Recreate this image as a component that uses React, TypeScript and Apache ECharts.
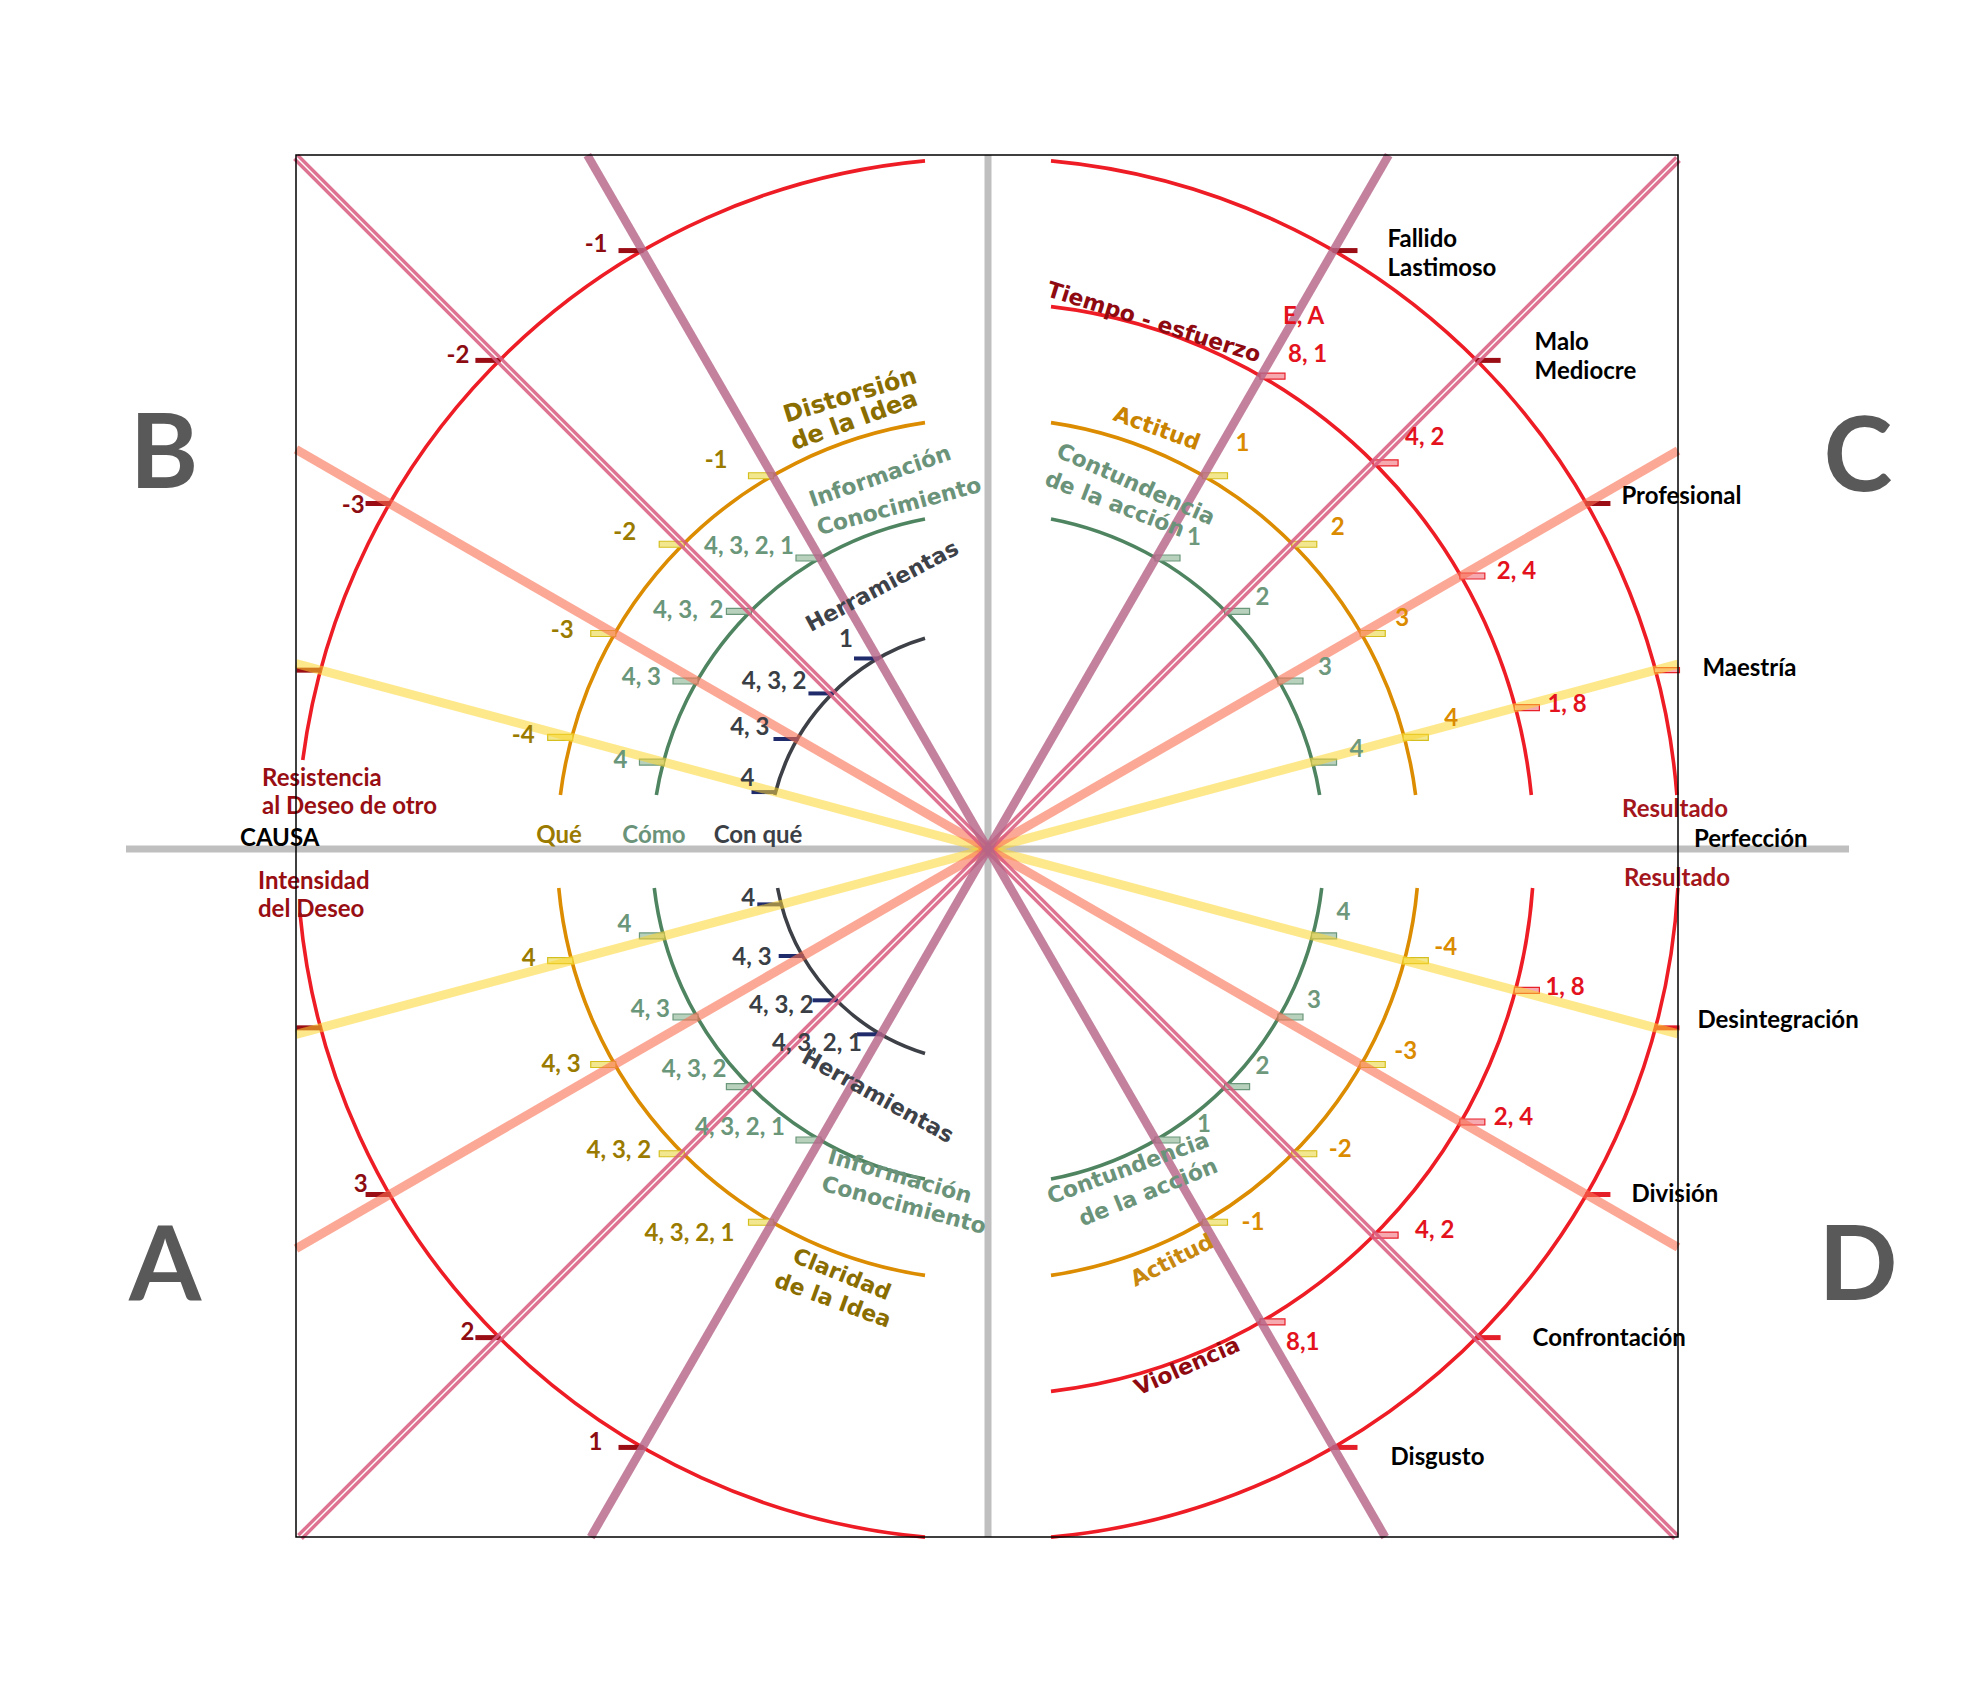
import React, { useEffect, useRef } from 'react';
import * as echarts from 'echarts';

// ---------------- data (values / texts) ----------------
const rayAngles = [15, 30, 45, 60]; // degrees of the four rays, mirrored in every quadrant
const quadrantLetters = ['A', 'B', 'C', 'D'];

// tick labels, ordered by ray angle 15°, 30°, 45°, 60°
const labelsA_outer = ['', '3', '2', '1'];
const labelsA_que = ['4', '4, 3', '4, 3, 2', '4, 3, 2, 1'];
const labelsA_como = ['4', '4, 3', '4, 3, 2', '4, 3, 2, 1'];
const labelsA_conque = ['4', '4, 3', '4, 3, 2', '4, 3, 2, 1'];
const labelsB_outer = ['', '-3', '-2', '-1'];
const labelsB_que = ['-4', '-3', '-2', '-1'];
const labelsB_como = ['4', '4, 3', '4, 3,  2', '4, 3, 2, 1'];
const labelsB_conque = ['4', '4, 3', '4, 3, 2', '1'];
const labelsC_outer = ['Maestría', 'Profesional', 'Malo\nMediocre', 'Fallido\nLastimoso'];
const labelsC_inner = ['1, 8', '2, 4', '4, 2', '8, 1'];
const labelsC_innerExtra = ['', '', '', 'E, A'];
const labelsC_que = ['4', '3', '2', '1'];
const labelsC_como = ['4', '3', '2', '1'];
const labelsD_outer = ['Desintegración', 'División', 'Confrontación', 'Disgusto'];
const labelsD_inner = ['1, 8', '2, 4', '4, 2', '8,1'];
const labelsD_que = ['-4', '-3', '-2', '-1'];
const labelsD_como = ['4', '3', '2', '1'];

const titlesA = ['Herramientas', 'Información', 'Conocimiento', 'Claridad', 'de la Idea'];
const titlesB = ['Distorsión', 'de la Idea', 'Información', 'Conocimiento', 'Herramientas'];
const titlesC = ['Tiempo - esfuerzo', 'Actitud', 'Contundencia', 'de la acción'];
const titlesD = ['Contundencia', 'de la acción', 'Actitud', 'Violencia'];

const causeLabels = ['Resistencia\nal Deseo de otro', 'CAUSA', 'Intensidad\ndel Deseo'];
const columnLabels = ['Qué', 'Cómo', 'Con qué'];
const resultLabels = ['Resultado', 'Perfección', 'Resultado'];

// ---------------- layout (positions, sizes, styles) ----------------
const W = 1983;
const H = 1700;
const CX = 988;
const CY = 849;
const FRAME = { left: 296, top: 155, right: 1678, bottom: 1537 };
const H_AXIS = { from: -862, to: 861 };
const RADIUS: Record<string, number> = { outer: 691, inner: 546, que: 431, como: 336, conqueA: 214, conqueB: 220 };
const GAP_X = 63;
const GAP_UP = 54;
const GAP_DOWN = 39;
const OUTER_LEFT_GAP_UP = 89;
const OUTER_LEFT_GAP_DOWN = 64;
const TICK_LEN = 24;

const QUAD_SIGN: Record<string, [number, number]> = { A: [-1, -1], B: [-1, 1], C: [1, 1], D: [1, -1] };
const QUAD_RINGS: Record<string, string[]> = {
  A: ['outer', 'que', 'como', 'conque'],
  B: ['outer', 'que', 'como', 'conque'],
  C: ['outer', 'inner', 'que', 'como'],
  D: ['outer', 'inner', 'que', 'como'],
};
const LABELS: Record<string, string[]> = {
  'A-outer': labelsA_outer, 'A-que': labelsA_que, 'A-como': labelsA_como, 'A-conque': labelsA_conque,
  'B-outer': labelsB_outer, 'B-que': labelsB_que, 'B-como': labelsB_como, 'B-conque': labelsB_conque,
  'C-outer': labelsC_outer, 'C-inner': labelsC_inner, 'C-que': labelsC_que, 'C-como': labelsC_como,
  'D-outer': labelsD_outer, 'D-inner': labelsD_inner, 'D-que': labelsD_que, 'D-como': labelsD_como,
};
// label edge offset from the arc/ray crossing [dx, dy] (screen px)
const LABEL_OFFSET: Record<string, number[][]> = {
  'B-outer': [[-30, -4], [-25, 0], [-30, -7], [-35, -8]],
  'B-que': [[-37, -4], [-41, -5], [-47, -14], [-45, -17]],
  'B-como': [[-36, -4], [-36, -6], [-27, -3], [-26, -14]],
  'B-conque': [[-21, -16], [-28, -14], [-26, -14], [-25, -21]],
  'A-outer': [[-30, -5], [-22, -12], [-25, -7], [-40, -7]],
  'A-que': [[-36, -4], [-34, -2], [-32, -5], [-38, 9]],
  'A-como': [[-32, -13], [-27, -10], [-24, -19], [-35, -14]],
  'A-conque': [[-26, -8], [-31, -1], [-23, 3], [-19, 7]],
  'C-outer': [[47, -4], [35, -9], [58, -5], [54, 1]],
  'C-inner': [[32, -5], [36, -7], [31, -27], [27, -24]],
  'C-que': [[40, -21], [34, -17], [38, -19], [32, -34]],
  'C-como': [[37, -15], [39, -16], [30, -16], [31, -23]],
  'D-outer': [[42, -9], [45, -2], [56, -1], [57, 8]],
  'D-inner': [[30, -5], [33, -7], [41, -7], [25, 19]],
  'D-que': [[30, -15], [33, -15], [36, -6], [38, -2]],
  'D-como': [[24, -25], [28, -19], [30, -22], [41, -17]],
};
const EXTRA_OFFSET = [[0, 0], [0, 0], [0, 0], [22, -62]];

const ARC_COLOR: Record<string, string> = {
  outer: '#ee1c25', inner: '#ee1c25', que: '#dc8c00', como: '#4f8461', conque: '#3d4047',
};
const LEFT_LABEL_COLOR: Record<string, string> = { outer: '#8c0c12', que: '#9a7b00', como: '#6a967a', conque: '#3a3e45' };
const RIGHT_LABEL_COLOR: Record<string, string> = { outer: '#000000', inner: '#e3121d', que: '#db8b00', como: '#6e987c' };

const RAY_STYLE: Record<number, { color: string; width: number; double?: boolean }> = {
  15: { color: 'rgba(253,214,46,0.55)', width: 9 },
  30: { color: 'rgba(250,110,80,0.6)', width: 9 },
  45: { color: 'rgba(216,89,126,0.85)', width: 3.4, double: true },
  60: { color: 'rgba(182,101,135,0.82)', width: 8.5 },
};

const OLIVE = '#8a6d00';
const SAGE = '#6a937a';
const DARK = '#3d4148';
const WINE = '#8e0a10';
// [dx, dy, rotationDeg, fontSize, color] relative to centre
const TITLE_LAYOUT_A = [[-110, 247, -29, 22, DARK], [-88, 327, -16, 22, SAGE], [-84, 356, -15, 22, SAGE], [-146, 425, -22, 22, OLIVE], [-155, 451, -20, 22, OLIVE]];
const TITLE_LAYOUT_B = [[-138, -454, 17, 24, OLIVE], [-134, -429, 20, 24, OLIVE], [-108, -373, 19, 22, SAGE], [-89, -343, 15, 22, SAGE], [-106, -263, 28, 22, DARK]];
const TITLE_LAYOUT_C = [[166, -527, -17.5, 22, WINE], [169, -421, -20, 22, '#c98300'], [148, -365, -24, 22, SAGE], [127, -345, -21, 22, SAGE]];
const TITLE_LAYOUT_D = [[140, 319, 20, 22, SAGE], [160, 343, 22, 22, SAGE], [184, 411, 27, 22, '#c8870e'], [199, 517, 24, 22, WINE]];

// [dx, dy, align, color]
const CAUSE_LAYOUT = [[-726, -59, 'left', '#980e12'], [-748, -13, 'left', '#000000'], [-730, 44, 'left', '#980e12']];
const COLUMN_LAYOUT = [[-429, -16, 'center', '#9a7a00'], [-334, -16, 'center', '#6a937a'], [-230, -16, 'center', '#3b4047']];
const RESULT_LAYOUT = [[634, -42, 'left', '#a3161c'], [706, -12, 'left', '#000000'], [636, 27, 'left', '#a3161c']];
const LETTER_LAYOUT = [[-823, 410], [-824, -402], [870, -399], [870, 410]];

const LABEL_FONT = 'Lato';
const TITLE_FONT = 'DejaVu Sans';

function ringRadius(q: string, ring: string) {
  return ring === 'conque' ? RADIUS['conque' + q] : RADIUS[ring];
}

function arcAngles(q: string, ring: string, r: number) {
  const leftOuter = ring === 'outer' && (q === 'A' || q === 'B');
  const up = leftOuter ? OUTER_LEFT_GAP_UP : GAP_UP;
  const down = leftOuter ? OUTER_LEFT_GAP_DOWN : GAP_DOWN;
  const ax = Math.asin(GAP_X / r);
  const au = Math.asin(up / r);
  const ad = Math.asin(down / r);
  const P = Math.PI;
  if (q === 'B') return [P + au, 1.5 * P - ax];
  if (q === 'C') return [1.5 * P + ax, 2 * P - au];
  if (q === 'D') return [ad, 0.5 * P - ax];
  return [0.5 * P + ax, P - ad];
}

function tickStyle(q: string, ring: string, ai: number) {
  if (ring === 'outer') {
    if (q === 'D') return { fill: '#e41f2a', stroke: 'none', h: 5 };
    if (q === 'C' && ai === 0) return { fill: '#f8b0b4', stroke: '#e8202a', h: 5 };
    return { fill: '#9b0d15', stroke: 'none', h: 5 };
  }
  if (ring === 'inner') return { fill: '#f6aab0', stroke: '#e8202a', h: 6 };
  if (ring === 'que') return { fill: '#f2e78f', stroke: '#d4bf1f', h: 6 };
  if (ring === 'como') return { fill: '#b7d1bd', stroke: '#6b977a', h: 6 };
  return { fill: '#1f2b6a', stroke: 'none', h: 4 };
}

function clipT(cx: number, cy: number, dx: number, dy: number) {
  let t = Infinity;
  if (dx > 1e-9) t = Math.min(t, (FRAME.right - cx) / dx);
  if (dx < -1e-9) t = Math.min(t, (FRAME.left - cx) / dx);
  if (dy > 1e-9) t = Math.min(t, (FRAME.bottom - cy) / dy);
  if (dy < -1e-9) t = Math.min(t, (FRAME.top - cy) / dy);
  return t;
}

// ---------------- build items ----------------
type ArcItem = { q: string; ring: string; r: number };
const arcItems: ArcItem[] = [];
type TickItem = { q: string; ring: string; ai: number; x: number; y: number };
const tickItems: TickItem[] = [];
type LabelItem = { x: number; y: number; text: string; dx: number; dy: number; color: string; left: boolean };
const labelItems: LabelItem[] = [];

['A', 'B', 'C', 'D'].forEach((q) => {
  const [sx, sy] = QUAD_SIGN[q];
  QUAD_RINGS[q].forEach((ring) => {
    const r = ringRadius(q, ring);
    arcItems.push({ q, ring, r });
    rayAngles.forEach((deg, ai) => {
      const a = (deg * Math.PI) / 180;
      const x = sx * r * Math.cos(a);
      const y = sy * r * Math.sin(a);
      tickItems.push({ q, ring, ai, x, y });
      const key = q + '-' + ring;
      const text = LABELS[key][ai];
      const left = sx < 0;
      const color = left ? LEFT_LABEL_COLOR[ring] : RIGHT_LABEL_COLOR[ring];
      if (text) {
        const [dx, dy] = LABEL_OFFSET[key][ai];
        labelItems.push({ x, y, text, dx, dy, color, left });
      }
      if (key === 'C-inner' && labelsC_innerExtra[ai]) {
        const [dx, dy] = EXTRA_OFFSET[ai];
        labelItems.push({ x, y, text: labelsC_innerExtra[ai], dx, dy, color, left });
      }
    });
  });
});

type TitleItem = { text: string; dx: number; dy: number; rot: number; size: number; color: string };
const titleItems: TitleItem[] = [];
const addTitles = (texts: string[], layout: any[][]) =>
  texts.forEach((t, i) => {
    const [dx, dy, rot, size, color] = layout[i];
    titleItems.push({ text: t, dx, dy, rot, size, color });
  });
addTitles(titlesA, TITLE_LAYOUT_A);
addTitles(titlesB, TITLE_LAYOUT_B);
addTitles(titlesC, TITLE_LAYOUT_C);
addTitles(titlesD, TITLE_LAYOUT_D);

type NoteItem = { text: string; dx: number; dy: number; align: string; color: string; size: number; family: string; lh: number };
const noteItems: NoteItem[] = [];
const addNotes = (texts: string[], layout: any[][]) =>
  texts.forEach((t, i) => {
    const [dx, dy, align, color] = layout[i];
    noteItems.push({ text: t, dx, dy, align, color, size: 24, family: LABEL_FONT, lh: 28 });
  });
addNotes(causeLabels, CAUSE_LAYOUT);
addNotes(columnLabels, COLUMN_LAYOUT);
addNotes(resultLabels, RESULT_LAYOUT);
quadrantLetters.forEach((t, i) => {
  const [dx, dy] = LETTER_LAYOUT[i];
  noteItems.push({ text: t, dx, dy, align: 'center', color: '#595959', size: 104, family: LABEL_FONT, lh: 110 });
});

const rayItems: number[] = [];
rayAngles.forEach((d) => {
  rayItems.push(d);
  rayItems.push(-d);
});

// ---------------- chart ----------------
function buildOption(): any {
  return {
    animation: false,
    backgroundColor: '#ffffff',
    grid: { left: 0, right: 0, top: 0, bottom: 0, containLabel: false },
    xAxis: { type: 'value', min: -CX, max: W - CX, show: false },
    yAxis: { type: 'value', min: -(H - CY), max: CY, show: false },
    series: [
      {
        type: 'custom',
        name: 'axes',
        silent: true,
        data: [[0, 0]],
        renderItem: (params: any, api: any) => {
          const c = api.coord([0, 0]);
          const l = api.coord([H_AXIS.from, 0]);
          const r = api.coord([H_AXIS.to, 0]);
          return {
            type: 'group',
            children: [
              { type: 'line', shape: { x1: l[0], y1: c[1], x2: r[0], y2: c[1] }, style: { stroke: '#bfbfbf', lineWidth: 7 } },
              { type: 'line', shape: { x1: c[0], y1: FRAME.top, x2: c[0], y2: FRAME.bottom }, style: { stroke: '#bfbfbf', lineWidth: 7 } },
            ],
          };
        },
      },
      {
        type: 'custom',
        name: 'arcs',
        silent: true,
        data: arcItems.map((a) => [a.r, 0]),
        renderItem: (params: any, api: any) => {
          const it = arcItems[params.dataIndex];
          const c = api.coord([0, 0]);
          const r = api.size([api.value(0), 0])[0];
          const [s, e] = arcAngles(it.q, it.ring, it.r);
          return {
            type: 'arc',
            shape: { cx: c[0], cy: c[1], r, startAngle: s, endAngle: e, clockwise: true },
            style: { stroke: ARC_COLOR[it.ring], lineWidth: 3.6, fill: 'none' },
          };
        },
      },
      {
        type: 'custom',
        name: 'ticks',
        silent: true,
        data: tickItems.map((t) => [t.x, t.y]),
        renderItem: (params: any, api: any) => {
          const it = tickItems[params.dataIndex];
          const p = api.coord([api.value(0), api.value(1)]);
          const st = tickStyle(it.q, it.ring, it.ai);
          const left = api.value(0) < 0;
          const x0 = left ? p[0] - TICK_LEN : p[0] - 1;
          return {
            type: 'rect',
            shape: { x: x0, y: p[1] - st.h / 2, width: TICK_LEN + 1, height: st.h },
            style: { fill: st.fill, stroke: st.stroke, lineWidth: st.stroke === 'none' ? 0 : 1.2 },
          };
        },
      },
      {
        type: 'custom',
        name: 'rays',
        silent: true,
        data: rayItems.map((d) => [d, 0]),
        renderItem: (params: any, api: any) => {
          const deg = rayItems[params.dataIndex];
          const st = RAY_STYLE[Math.abs(deg)];
          const c = api.coord([0, 0]);
          const a = (deg * Math.PI) / 180;
          const dx = Math.cos(a);
          const dy = -Math.sin(a);
          const t1 = clipT(c[0], c[1], dx, dy);
          const t2 = clipT(c[0], c[1], -dx, -dy);
          const mk = (off: number) => {
            const nx = -dy * off;
            const ny = dx * off;
            return {
              type: 'line',
              shape: { x1: c[0] + dx * t1 + nx, y1: c[1] + dy * t1 + ny, x2: c[0] - dx * t2 + nx, y2: c[1] - dy * t2 + ny },
              style: { stroke: st.color, lineWidth: st.width },
            };
          };
          if (st.double) return { type: 'group', children: [mk(-2.4), mk(2.4)] };
          return mk(0);
        },
      },
      {
        type: 'custom',
        name: 'tickLabels',
        silent: true,
        data: labelItems.map((l) => [l.x, l.y]),
        renderItem: (params: any, api: any) => {
          const it = labelItems[params.dataIndex];
          const p = api.coord([api.value(0), api.value(1)]);
          return {
            type: 'text',
            x: p[0] + it.dx,
            y: p[1] + it.dy,
            style: {
              text: it.text,
              fill: it.color,
              fontFamily: LABEL_FONT,
              fontWeight: 'bold',
              fontSize: 24,
              lineHeight: 29,
              align: it.left ? 'right' : 'left',
              verticalAlign: 'middle',
            },
          };
        },
      },
      {
        type: 'custom',
        name: 'titles',
        silent: true,
        data: titleItems.map((t) => [t.dx, -t.dy]),
        renderItem: (params: any, api: any) => {
          const it = titleItems[params.dataIndex];
          const p = api.coord([api.value(0), api.value(1)]);
          return {
            type: 'text',
            x: p[0],
            y: p[1],
            rotation: (it.rot * Math.PI) / 180,
            style: {
              text: it.text,
              fill: it.color,
              fontFamily: TITLE_FONT,
              fontWeight: 'bold',
              fontSize: it.size,
              align: 'center',
              verticalAlign: 'middle',
            },
          };
        },
      },
      {
        type: 'custom',
        name: 'notes',
        silent: true,
        data: noteItems.map((t) => [t.dx, -t.dy]),
        renderItem: (params: any, api: any) => {
          const it = noteItems[params.dataIndex];
          const p = api.coord([api.value(0), api.value(1)]);
          return {
            type: 'text',
            x: p[0],
            y: p[1],
            style: {
              text: it.text,
              fill: it.color,
              fontFamily: it.family,
              fontWeight: 'bold',
              fontSize: it.size,
              lineHeight: it.lh,
              align: it.align,
              verticalAlign: 'middle',
            },
          };
        },
      },
      {
        type: 'custom',
        name: 'frame',
        silent: true,
        data: [[0, 0]],
        renderItem: () => ({
          type: 'rect',
          shape: { x: FRAME.left, y: FRAME.top, width: FRAME.right - FRAME.left, height: FRAME.bottom - FRAME.top },
          style: { fill: 'none', stroke: '#000000', lineWidth: 1.5 },
        }),
      },
    ],
  };
}

export default function App() {
  const ref = useRef<HTMLDivElement>(null);
  useEffect(() => {
    if (!ref.current) return;
    const chart = echarts.init(ref.current, null, { renderer: 'svg' });
    chart.setOption(buildOption());
    return () => chart.dispose();
  }, []);
  return <div ref={ref} style={{ position: 'absolute', left: 0, top: 0, width: W, height: H, background: '#fff' }} />;
}
